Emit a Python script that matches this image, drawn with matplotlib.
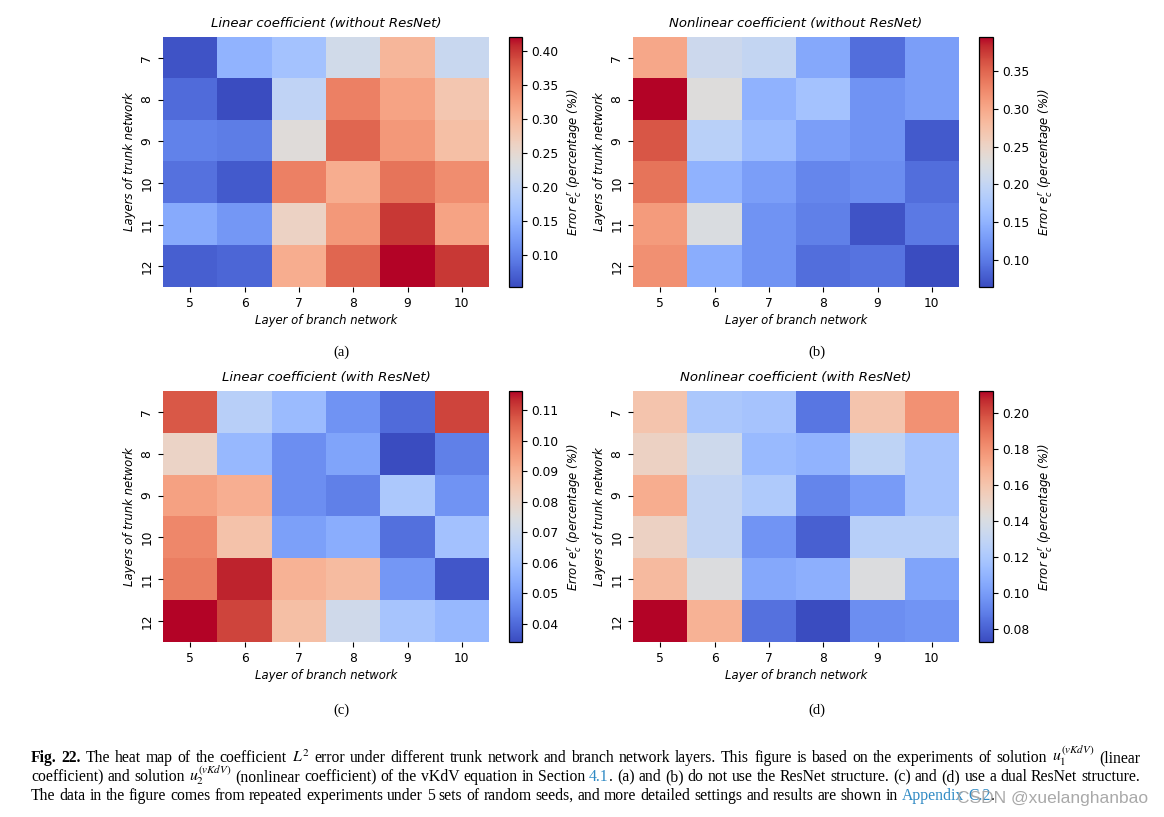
import matplotlib
matplotlib.use("Agg")
import matplotlib.pyplot as plt
import numpy as np

# rows: layers of trunk network, columns: layers of branch network
trunk_layers = [7, 8, 9, 10, 11, 12]
branch_layers = [5, 6, 7, 8, 9, 10]

lin_no_res = [
    [0.060, 0.150, 0.170, 0.220, 0.300, 0.210],
    [0.080, 0.053, 0.200, 0.350, 0.320, 0.280],
    [0.100, 0.095, 0.240, 0.370, 0.330, 0.290],
    [0.085, 0.065, 0.350, 0.310, 0.360, 0.340],
    [0.140, 0.120, 0.260, 0.330, 0.400, 0.320],
    [0.070, 0.075, 0.310, 0.370, 0.421, 0.400],
]
nonlin_no_res = [
    [0.300, 0.210, 0.200, 0.140, 0.090, 0.130],
    [0.395, 0.230, 0.150, 0.170, 0.120, 0.130],
    [0.360, 0.190, 0.160, 0.130, 0.120, 0.075],
    [0.340, 0.150, 0.130, 0.110, 0.115, 0.090],
    [0.310, 0.225, 0.120, 0.105, 0.070, 0.100],
    [0.320, 0.145, 0.120, 0.090, 0.095, 0.064],
]
lin_res = [
    [0.107, 0.065, 0.058, 0.048, 0.040, 0.110],
    [0.080, 0.057, 0.047, 0.052, 0.034, 0.044],
    [0.094, 0.091, 0.047, 0.044, 0.062, 0.048],
    [0.099, 0.086, 0.051, 0.054, 0.041, 0.060],
    [0.101, 0.114, 0.090, 0.088, 0.049, 0.036],
    [0.1163, 0.110, 0.087, 0.071, 0.061, 0.057],
]
nonlin_res = [
    [0.160, 0.120, 0.118, 0.087, 0.160, 0.180],
    [0.152, 0.135, 0.113, 0.110, 0.128, 0.118],
    [0.170, 0.130, 0.122, 0.092, 0.100, 0.118],
    [0.152, 0.130, 0.097, 0.080, 0.125, 0.125],
    [0.165, 0.142, 0.105, 0.108, 0.142, 0.103],
    [0.2124, 0.168, 0.085, 0.073, 0.095, 0.097],
]

titles = ["Linear coefficient (without ResNet)",
          "Nonlinear coefficient (without ResNet)",
          "Linear coefficient (with ResNet)",
          "Nonlinear coefficient (with ResNet)"]
panels = [lin_no_res, nonlin_no_res, lin_res, nonlin_res]
sublabels = ["(a)", "(b)", "(c)", "(d)"]

W, H = 1164, 817
fig = plt.figure(figsize=(W / 100, H / 100), dpi=100)


def px_rect(x0, y0, x1, y1):
    return [x0 / W, 1 - y1 / H, (x1 - x0) / W, (y1 - y0) / H]


# pixel boxes: heatmap, colorbar
boxes = [
    ((163, 37, 489, 287), (509, 37, 522, 287)),
    ((633, 37, 959, 287), (979, 37, 993, 287)),
    ((163, 391, 489, 642), (509, 391, 522, 642)),
    ((633, 391, 959, 642), (979, 391, 993, 642)),
]
sub_pos = [(341, 352), (817, 352), (341, 710), (817, 710)]

for data, title, (hb, cb), sl, sp in zip(panels, titles, boxes, sublabels, sub_pos):
    data = np.array(data)
    ax = fig.add_axes(px_rect(*hb))
    cax = fig.add_axes(px_rect(*cb))
    im = ax.imshow(data, cmap="coolwarm", vmin=data.min(), vmax=data.max(),
                   aspect="auto", interpolation="nearest")
    ax.set_xticks(range(len(branch_layers)))
    ax.set_xticklabels(branch_layers, fontsize=8.8)
    ax.set_yticks(range(len(trunk_layers)))
    ax.set_yticklabels(trunk_layers, fontsize=8.8, rotation=90, va="center")
    for s in ax.spines.values():
        s.set_visible(False)
    ax.set_title(title, fontsize=9.5, style="italic", pad=7)
    ax.set_xlabel("Layer of branch network", fontsize=8.4, style="italic", labelpad=3)
    ax.set_ylabel("Layers of trunk network", fontsize=8.4, style="italic", labelpad=3)
    cbar = fig.colorbar(im, cax=cax)
    cbar.ax.tick_params(labelsize=8.8)
    cbar.outline.set_linewidth(0.9)
    cbar.set_label("Error $e_c^r$ (percentage (%))", fontsize=8.4, style="italic")
    fig.text(sp[0] / W, 1 - sp[1] / H, sl, ha="center", va="center",
             fontsize=10.5, family="Liberation Serif")

# caption
blue = "#2f8ac4"
lines = [
    [[("Fig.", "k", "bold")], [("22.", "k", "bold")]] +
    [[(w, "k", "normal")] for w in
     "The heat map of the coefficient $L^2$ error under different trunk network and branch network layers. This figure is based on the experiments of solution $u_1^{(vKdV)}$ (linear".split(" ")],
    [[(w, "k", "normal")] for w in
     "coefficient) and solution $u_2^{(vKdV)}$ (nonlinear coefficient) of the vKdV equation in Section".split(" ")] +
    [[("4.1", blue, "normal"), (".", "k", "normal")]] +
    [[(w, "k", "normal")] for w in
     "(a) and (b) do not use the ResNet structure. (c) and (d) use a dual ResNet structure.".split(" ")],
    [[(w, "k", "normal")] for w in
     "The data in the figure comes from repeated experiments under 5 sets of random seeds, and more detailed settings and results are shown in".split(" ")] +
    [[("Appendix", blue, "normal")], [("C.2", blue, "normal"), (".", "k", "normal")]],
]
line_y = [762, 781, 800]
x_left, x_right = 31, 1140
last_end = 993
justify = [True, True, False]

renderer = fig.canvas.get_renderer()


def place_words(words, y, fs):
    placed = []
    for word in words:
        pieces = []
        for s, c, wgt in word:
            t = fig.text(0, 1 - y / H, s, color=c, fontweight=wgt, va="baseline",
                         family="Liberation Serif", fontsize=fs, math_fontfamily="stix")
            pieces.append((t, t.get_window_extent(renderer).width))
        placed.append(pieces)
    return placed


# size the caption font so the last (unjustified) line ends where it does in the original
fs = 10.0
probe = place_words(lines[2], line_y[2], fs)
probe_w = sum(w for p in probe for _, w in p) + 0.25 * fs * 100 / 72 * (len(probe) - 1)
for p in probe:
    for t, _ in p:
        t.remove()
fs = fs * (last_end - x_left) / probe_w

for words, y, just in zip(lines, line_y, justify):
    placed = place_words(words, y, fs)
    widths = [sum(w for _, w in p) for p in placed]
    if just:
        gap = (x_right - x_left - sum(widths)) / (len(placed) - 1)
    else:
        gap = 0.25 * fs * 100 / 72
    x = x_left
    for pieces in placed:
        for t, w in pieces:
            t.set_x(x / W)
            x += w
        x += gap

# watermark
wm = fig.text(957 / W, 1 - 798 / H, "CSDN @xuelanghanbao", fontsize=12,
              color="#a0a0a0", alpha=0.9, va="center", ha="left", family="Liberation Sans")
wm_w = wm.get_window_extent(renderer).width
wm.set_fontsize(12 * 191 / wm_w)

fig.savefig("out.png", dpi=100)
